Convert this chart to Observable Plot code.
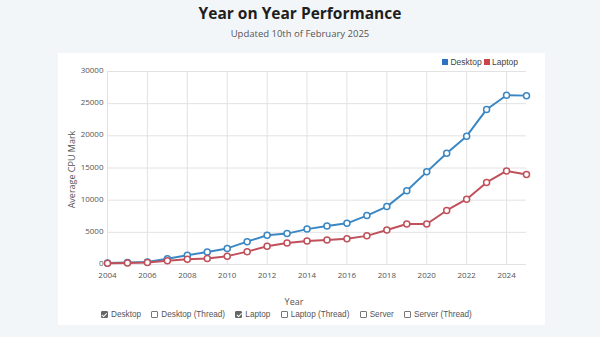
<!DOCTYPE html>
<html><head><meta charset="utf-8">
<script src="https://cdn.jsdelivr.net/npm/d3@7"></script>
<script src="https://cdn.jsdelivr.net/npm/@observablehq/plot@0.6"></script>
<style>
html,body{margin:0;padding:0;}
body{width:600px;height:337px;background:#f3f6f9;position:relative;overflow:hidden;font-family:"Open Sans",sans-serif;}
#title{position:absolute;left:0;width:600px;top:2px;text-align:center;font-size:15.5px;font-weight:700;color:#1e1e1e;}
#subtitle{position:absolute;left:0;width:600px;top:27px;text-align:center;font-size:9.5px;color:#555;}
#card{position:absolute;left:58px;top:53px;width:487px;height:272px;background:#fff;}
#chart{position:absolute;left:0;top:2px;}
#legend{position:absolute;right:27px;top:4px;font-size:8.5px;color:#444;font-family:"Liberation Sans",Arial,sans-serif;}
#legend span.sw{display:inline-block;width:6px;height:6px;margin-right:2px;vertical-align:0px;}
#ylab{position:absolute;left:13px;top:110px;transform:rotate(-90deg);transform-origin:center;font-size:9px;color:#555;white-space:nowrap;width:0;}
#xlab{position:absolute;left:0;width:472px;top:242px;text-align:center;font-size:9px;color:#555;}
#checks{position:absolute;left:43px;top:257px;font-size:8.2px;color:#555;white-space:nowrap;font-family:"Liberation Sans",Arial,sans-serif;}
#checks .item{margin-right:8px;}
#checks .box{display:inline-block;box-sizing:border-box;width:7px;height:7px;border:1px solid #777;border-radius:1px;margin-right:3px;vertical-align:-0.5px;background:#fff;position:relative;}
#checks .box.on{background:#666;border-color:#666;}
#checks .box.on::after{content:"";position:absolute;left:1.3px;top:0px;width:2px;height:3.5px;border:solid #fff;border-width:0 1px 1px 0;transform:rotate(45deg);}
</style></head>
<body>
<div id="title">Year on Year Performance</div>
<div id="subtitle">Updated 10th of February 2025</div>
<div id="card">
  <div id="chart"></div>
  <div id="legend"><span class="sw" style="background:#2f72c0"></span>Desktop <span class="sw" style="background:#c8454a"></span>Laptop</div>
  <div id="ylab"><span style="display:inline-block;transform:translateX(-50%)">Average CPU Mark</span></div>
  <div id="xlab">Year</div>
  <div id="checks">
    <span class="item"><span class="box on"></span>Desktop</span>
    <span class="item"><span class="box"></span>Desktop (Thread)</span>
    <span class="item"><span class="box on"></span>Laptop</span>
    <span class="item"><span class="box"></span>Laptop (Thread)</span>
    <span class="item"><span class="box"></span>Server</span>
    <span class="item"><span class="box"></span>Server (Thread)</span>
  </div>
</div>
<script>
const years = [2004,2005,2006,2007,2008,2009,2010,2011,2012,2013,2014,2015,2016,2017,2018,2019,2020,2021,2022,2023,2024,2025];
const desktop = [250,300,400,900,1450,1950,2500,3550,4550,4800,5500,6000,6400,7600,9000,11450,14400,17300,19950,24100,26300,26250];
const laptop = [200,220,300,600,800,950,1300,2000,2850,3350,3650,3800,4000,4450,5350,6300,6300,8400,10150,12750,14550,14000];
const yTicks = [0,5000,10000,15000,20000,25000,30000];
const xTicks = [2004,2006,2008,2010,2012,2014,2016,2018,2020,2022,2024];
const seriesNames = ["Desktop","Laptop"];
const seriesColors = ["#3a87c4","#c0505a"];

const data = [];
years.forEach((y,i)=>{
  data.push({year:y, value:desktop[i], series:"Desktop"});
  data.push({year:y, value:laptop[i], series:"Laptop"});
});

const chart = Plot.plot({
  width:487, height:230,
  marginLeft:49, marginRight:19, marginTop:16, marginBottom:21,
  style:{fontFamily:"Open Sans, sans-serif", fontSize:"8px", color:"#555", background:"transparent"},
  x:{domain:[2004,2025], ticks:xTicks, tickFormat:d=>String(d), label:null},
  y:{domain:[0,30000], ticks:yTicks, tickFormat:d=>String(d), label:null},
  color:{domain:seriesNames, range:seriesColors},
  marks:[
    Plot.gridX(xTicks,{stroke:"#e2e2e2", strokeOpacity:1}),
    Plot.gridY(yTicks,{stroke:"#e2e2e2", strokeOpacity:1, x1:2004, x2:2025}),
    Plot.axisX(xTicks,{tickSize:0, tickPadding:8, tickFormat:d=>String(d), fill:"#555"}),
    Plot.axisY(yTicks,{tickSize:0, tickPadding:4, dy:-1, tickFormat:d=>String(d), fill:"#555"}),
    Plot.line(data,{x:"year", y:"value", z:"series", stroke:"series", strokeWidth:2}),
    Plot.dot(data,{x:"year", y:"value", stroke:"series", fill:"white", r:3, strokeWidth:1.5})
  ]
});
document.getElementById("chart").appendChild(chart);
</script>
</body></html>
